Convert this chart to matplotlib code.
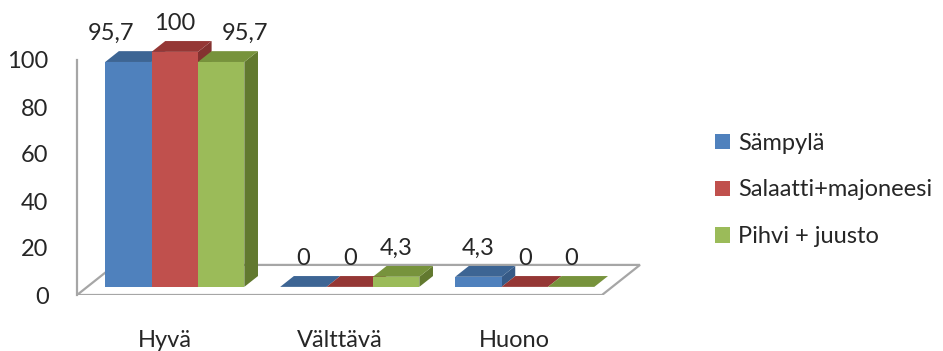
import numpy as np
import matplotlib.pyplot as plt
from matplotlib.patches import Polygon, Patch

plt.rcParams['font.family'] = ['Lato', 'DejaVu Sans']

categories = ['Hyvä', 'Välttävä', 'Huono']
series = ['Sämpylä', 'Salaatti+majoneesi', 'Pihvi + juusto']
values = [
    [95.7, 0, 4.3],    # Sämpylä
    [100, 0, 0],       # Salaatti+majoneesi
    [95.7, 4.3, 0],    # Pihvi + juusto
]
front_cols = ['#4F81BD', '#C0504D', '#9BBB59']
top_cols = ['#3D6594', '#953735', '#77933C']
side_cols = ['#365A86', '#843230', '#62792F']

# fake 3d: depth vector of the floor in data units, bars sit between f0 and f1
DX, DY = 0.217, 12.8
f0, f1 = 0.27, 0.63
w = 0.265
# label nudges for the crowded first group
nudge = {(0, 0): -0.097, (2, 0): 0.137}
fs = 17
tc = '#262626'

fig = plt.figure(figsize=(9.43, 3.51), dpi=100)
ax = fig.add_axes([77 / 943, 56 / 351, 595 / 943, 282 / 351])
ax.set_xlim(-0.5, 2.9)
ax.set_ylim(0, 120)

grey = '#A6A6A6'
floor = Polygon([(-0.5, 0), (2.5, 0), (2.5 + DX, DY), (-0.5 + DX, DY)],
                closed=True, facecolor='white', edgecolor=grey, lw=1.6, zorder=1)
ax.add_patch(floor)

x = np.arange(len(categories))
dxb = (f1 - f0) * DX
dyb = (f1 - f0) * DY
for i in range(len(categories)):
    for j in range(len(series)):
        v = values[j][i]
        xl = x[i] + f0 * DX + (j - 1.5) * w
        yb = f0 * DY
        yt = yb + v
        top = Polygon([(xl, yt), (xl + w, yt), (xl + w + dxb, yt + dyb), (xl + dxb, yt + dyb)],
                      closed=True, facecolor=top_cols[j], edgecolor='none', zorder=3)
        side = Polygon([(xl + w, yb), (xl + w + dxb, yb + dyb), (xl + w + dxb, yt + dyb), (xl + w, yt)],
                       closed=True, facecolor=side_cols[j], edgecolor='none', zorder=3)
        ax.add_patch(side)
        ax.add_patch(top)
        ax.bar(xl, v, bottom=yb, width=w, align='edge', color=front_cols[j], zorder=3)
        txt = ('%g' % v).replace('.', ',')
        ax.text(xl + w / 2 + nudge.get((j, i), 0), yt + 12, txt, ha='center', va='center',
                fontsize=fs, color=tc, zorder=5)

for s in ['top', 'right', 'bottom']:
    ax.spines[s].set_visible(False)
ax.spines['left'].set_bounds(0, 100)
ax.spines['left'].set_color(grey)
ax.spines['left'].set_linewidth(1.6)

ax.set_yticks(range(0, 101, 20))
ax.set_xticks(x)
ax.set_xticklabels(categories)
ax.tick_params(axis='y', length=0, pad=20.5, labelsize=fs, labelcolor=tc)
ax.tick_params(axis='x', length=0, pad=25, labelsize=fs, labelcolor=tc)

handles = [Patch(facecolor=c, edgecolor='none') for c in front_cols]
fig.legend(handles, series, loc='center left', bbox_to_anchor=(694 / 943, 1 - 190 / 351),
           frameon=False, fontsize=fs, handlelength=0.62, handleheight=0.62,
           handletextpad=0.35, labelspacing=1.09, labelcolor=tc)

fig.savefig('out.png', dpi=100)
